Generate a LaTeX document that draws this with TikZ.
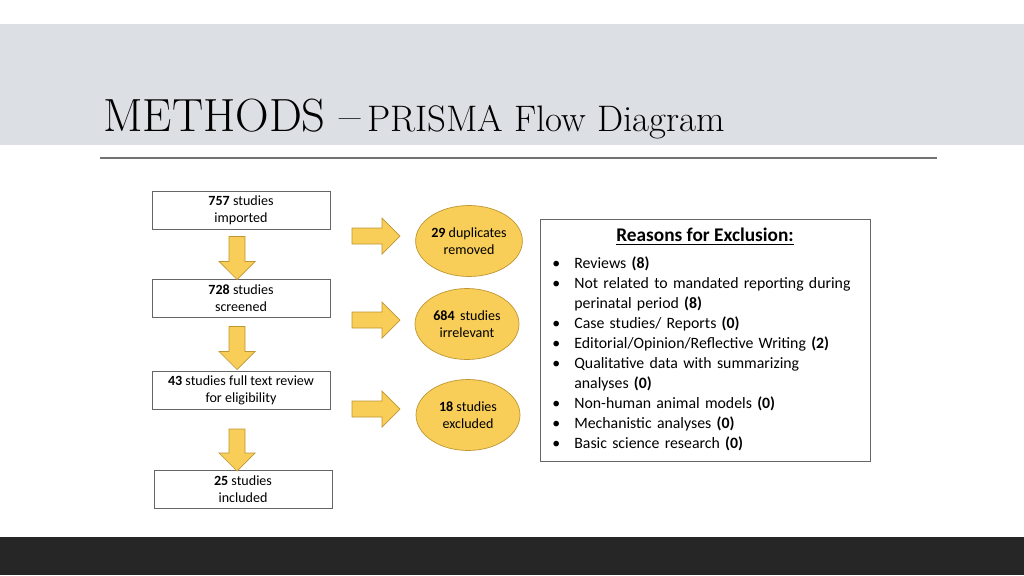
\documentclass[tikz,border=0pt]{standalone}
\usepackage{fontspec}
\setsansfont{Carlito}
\usetikzlibrary{shapes.geometric,shapes.arrows}
\definecolor{bandgray}{RGB}{220,223,228}
\definecolor{darkband}{RGB}{38,38,38}
\definecolor{arrowfill}{RGB}{248,206,88}
\definecolor{arrowline}{RGB}{190,150,50}
\begin{document}
\begin{tikzpicture}[x=0.02cm,y=-0.02cm,
    font=\sffamily\fontsize{8}{9.6}\selectfont,
    stepbox/.style={draw=black!60,fill=white,minimum width=3.56cm,minimum height=0.76cm,align=center,inner sep=1pt},
    outcome/.style={ellipse,draw=arrowline,fill=arrowfill,minimum width=2.08cm,minimum height=1.42cm,align=center,inner sep=0pt},
    flowarrow/.style={single arrow,draw=arrowline,fill=arrowfill,minimum height=#1,minimum width=0.72cm,single arrow head extend=4pt,inner sep=3pt}]

    % Frame and bands
    \useasboundingbox (0,0) rectangle (1024,575);
    \fill[bandgray] (0,24) rectangle (1024,145);
    \fill[darkband] (0,537) rectangle (1024,575);
    \draw[black!55,line width=0.8pt] (100,158) -- (937,158);

    % Title
    \node[anchor=base west,inner sep=0pt,font=\rmfamily] (title) at (103,131)
        {{\fontsize{26.5}{28}\selectfont METHODS --} {\fontsize{21}{24}\selectfont PRISMA Flow Diagram}};

    % Steps of the flow
    \node[stepbox] (imported) at (241,210) {\textbf{757} studies\\imported};
    \node[stepbox] (screened) at (241,298) {\textbf{728} studies\\screened};
    \node[stepbox] (fulltext) at (241,390) {\textbf{43} studies full text review\\for eligibility};
    \node[stepbox] (included) at (243,489) {\textbf{25} studies\\included};

    % Down arrows
    \node[flowarrow=0.86cm,rotate=-90] (down1) at (237,254) {};
    \node[flowarrow=0.86cm,rotate=-90] (down2) at (237,344) {};
    \node[flowarrow=0.84cm,rotate=-90] (down3) at (237,446) {};

    % Right arrows
    \node[flowarrow=0.96cm] (right1) at (372,236) {};
    \node[flowarrow=0.96cm] (right2) at (372,320) {};
    \node[flowarrow=0.96cm] (right3) at (372,409) {};

    % Removed studies
    \node[outcome] (duplicates) at (469,241) {\textbf{29} duplicates\\removed};
    \node[outcome] (irrelevant) at (467,324) {\textbf{684}\, studies\\irrelevant};
    \node[outcome] (excluded) at (468,415) {\textbf{18} studies\\excluded};

    % Reasons for exclusion
    \draw[black!60,fill=white] (540,219) rectangle (870,461);
    \node[anchor=north,font=\sffamily\fontsize{11}{13}\selectfont\bfseries] (reasonstitle) at (705,222) {\underline{Reasons for Exclusion:}};
    \node[anchor=north west,text width=6.5cm,inner sep=0pt,font=\sffamily\fontsize{9}{11.4}\selectfont] (reasons) at (541,248) {%
        \raggedright
        \begin{list}{\textbullet}{\leftmargin=0.66cm\labelwidth=0.4cm\labelsep=0.28cm\itemsep=0pt\parsep=0pt\topsep=0pt}
        \item Reviews \textbf{(8)}
        \item Not related to mandated reporting during perinatal period \textbf{(8)}
        \item Case studies/ Reports \textbf{(0)}
        \item Editorial/Opinion/Reflective Writing \textbf{(2)}
        \item Qualitative data with summarizing\\analyses \textbf{(0)}
        \item Non-human animal models \textbf{(0)}
        \item Mechanistic analyses \textbf{(0)}
        \item Basic science research \textbf{(0)}
        \end{list}};

\end{tikzpicture}
\end{document}
